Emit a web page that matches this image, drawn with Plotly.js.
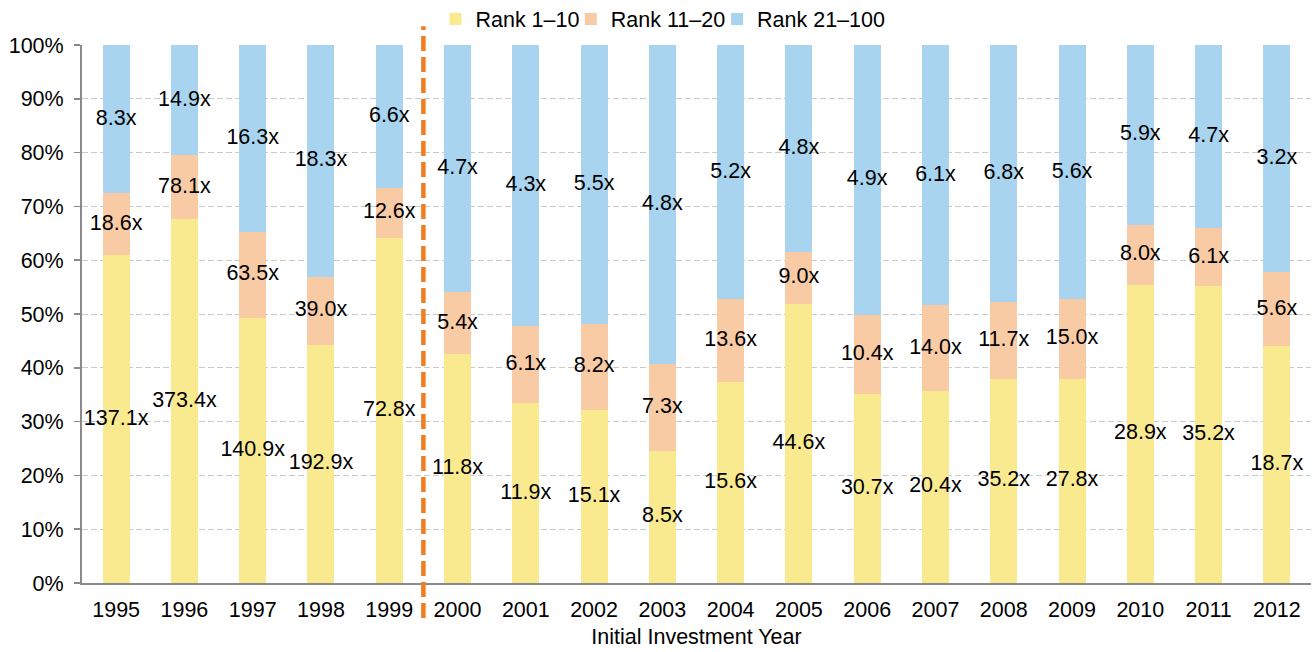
<!DOCTYPE html>
<html>
<head>
<meta charset="utf-8">
<script src="https://cdn.plot.ly/plotly-3.0.1.min.js"></script>
<style>html,body{margin:0;padding:0;background:#fff;}#chart{width:1313px;height:652px;}</style>
</head>
<body>
<div id="chart"></div>
<script>
const years = ['1995','1996','1997','1998','1999','2000','2001','2002','2003','2004','2005','2006','2007','2008','2009','2010','2011','2012'];
const rank1to10 = [60.9, 67.6, 49.3, 44.2, 64.2, 42.5, 33.4, 32.1, 24.5, 37.3, 51.8, 35.1, 35.7, 37.9, 38.0, 55.4, 55.2, 44.0];
const rank11to20 = [11.5, 11.9, 16.0, 12.7, 9.3, 11.5, 14.4, 16.1, 16.2, 15.4, 9.8, 14.8, 15.9, 14.3, 14.7, 11.2, 10.7, 13.8];
const rank21to100 = [27.6, 20.5, 34.7, 43.1, 26.5, 46.0, 52.2, 51.8, 59.3, 47.3, 38.4, 50.1, 48.4, 47.8, 47.3, 33.4, 34.1, 42.2];
const labels1to10 = ['137.1x','373.4x','140.9x','192.9x','72.8x','11.8x','11.9x','15.1x','8.5x','15.6x','44.6x','30.7x','20.4x','35.2x','27.8x','28.9x','35.2x','18.7x'];
const labels11to20 = ['18.6x','78.1x','63.5x','39.0x','12.6x','5.4x','6.1x','8.2x','7.3x','13.6x','9.0x','10.4x','14.0x','11.7x','15.0x','8.0x','6.1x','5.6x'];
const labels21to100 = ['8.3x','14.9x','16.3x','18.3x','6.6x','4.7x','4.3x','5.5x','4.8x','5.2x','4.8x','4.9x','6.1x','6.8x','5.6x','5.9x','4.7x','3.2x'];
const seriesNames = ['Rank 1\u201310','Rank 11\u201320','Rank 21\u2013100'];
const yTickVals = [0,10,20,30,40,50,60,70,80,90,100];
const yTickText = ['0%','10%','20%','30%','40%','50%','60%','70%','80%','90%','100%'];
const colors = ['#FAEA8F','#F9CBA5','#A8D4F0'];

const font = 'Liberation Sans, Arial, sans-serif';
const fs = 21.5;
const series = [rank1to10, rank11to20, rank21to100];
const labelSets = [labels1to10, labels11to20, labels21to100];
const legendIds = ['legend', 'legend2', 'legend3'];
const legendX = [0.2876, 0.3977, 0.5167];

const traces = [];
series.forEach((vals, i) => {
  traces.push({
    type: 'bar', x: years, y: vals, name: seriesNames[i], legend: legendIds[i],
    marker: {color: colors[i], line: {width: 0}},
    hoverinfo: 'x+y+name'
  });
});
series.forEach((vals, i) => {
  const centres = vals.map((v, k) => {
    let base = 0;
    for (let j = 0; j < i; j++) base += series[j][k];
    return base + v / 2;
  });
  traces.push({
    type: 'scatter', mode: 'text', x: years, y: centres, text: labelSets[i],
    textposition: 'middle center', textfont: {family: font, size: fs, color: '#000'},
    showlegend: false, hoverinfo: 'skip', cliponaxis: false
  });
});

const layout = {
  width: 1313, height: 652,
  margin: {l: 82, r: 2, t: 45, b: 69, autoexpand: false},
  paper_bgcolor: '#fff', plot_bgcolor: '#fff',
  barmode: 'stack', bargap: 0.605,
  font: {family: font, size: fs, color: '#000'},
  showlegend: true,
  xaxis: {
    type: 'category', range: [-0.5, 17.5], showgrid: false, zeroline: false,
    showline: true, linecolor: '#8a8a8a', linewidth: 2,
    ticks: '', ticklabelstandoff: 6,
    tickfont: {family: font, size: fs, color: '#000'},
    title: {text: 'Initial Investment Year', font: {family: font, size: fs, color: '#000'}, standoff: 8}
  },
  yaxis: {
    range: [0, 100], tickvals: yTickVals, ticktext: yTickText,
    showgrid: true, gridcolor: '#c9c9c9', gridwidth: 1, griddash: '6px,3px',
    zeroline: false, showline: true, linecolor: '#8a8a8a', linewidth: 2,
    ticks: 'outside', ticklen: 6, tickcolor: '#8a8a8a', tickwidth: 1.5,
    ticklabelstandoff: 6,
    tickfont: {family: font, size: fs, color: '#000'}
  },
  shapes: [{
    type: 'line', xref: 'x', yref: 'paper', x0: 4.5, x1: 4.5, y0: -0.065, y1: 1.035,
    line: {color: '#F07D22', width: 4.5, dash: '15px,6px'}, layer: 'above'
  }]
};
legendIds.forEach((id, i) => {
  layout[id] = {orientation: 'h', x: legendX[i], xanchor: 'left', y: 1.0483, yanchor: 'middle',
    font: {family: font, size: fs, color: '#000'}, itemwidth: 30,
    bgcolor: 'rgba(0,0,0,0)', borderwidth: 0};
});

Plotly.newPlot('chart', traces, layout, {displayModeBar: false, staticPlot: true});
</script>
</body>
</html>
